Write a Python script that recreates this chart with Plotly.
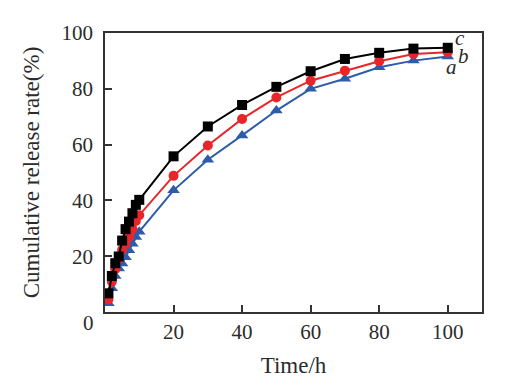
import plotly.graph_objects as go

time_h = [1, 2, 3, 4, 5, 6, 7, 8, 9, 10, 20, 30, 40, 50, 60, 70, 80, 90, 100]
series_c = [6.7, 12.9, 17.5, 19.9, 25.6, 29.7, 32.4, 35.4, 38.4, 40.2, 55.8, 66.5, 74.2, 80.7, 86.3, 90.7, 92.9, 94.4, 94.7]
series_b = [4.5, 10.9, 15.3, 18.9, 22.3, 24.5, 27.0, 29.7, 32.6, 34.7, 48.8, 59.7, 69.2, 76.9, 82.9, 86.5, 89.9, 92.5, 93.1]
series_a = [3.1, 8.5, 12.9, 15.6, 17.4, 19.6, 22.1, 24.5, 26.9, 28.8, 43.6, 54.6, 63.3, 72.2, 80.0, 83.6, 87.7, 90.1, 91.6]
x_ticks = [20, 40, 60, 80, 100]
y_ticks = [20, 40, 60, 80, 100]
labels = ["c", "b", "a"]

font_family = "Liberation Serif, Times New Roman, serif"
text_color = "#2b2b2b"

fig = go.Figure()
fig.add_trace(go.Scatter(x=time_h, y=series_a, mode="lines+markers",
                         line=dict(color="#2e5caa", width=2),
                         marker=dict(symbol="triangle-up", size=11, color="#2e5caa")))
fig.add_trace(go.Scatter(x=time_h, y=series_b, mode="lines+markers",
                         line=dict(color="#e8262a", width=2),
                         marker=dict(symbol="circle", size=10, color="#e8262a")))
fig.add_trace(go.Scatter(x=time_h, y=series_c, mode="lines+markers",
                         line=dict(color="#000000", width=2),
                         marker=dict(symbol="square", size=10, color="#000000")))

# curve labels
label_pos = [(103.6, 98.1), (104.7, 91.8), (101.2, 87.8)]
for lab, (lx, ly) in zip(labels, label_pos):
    fig.add_annotation(x=lx, y=ly, text="<i>%s</i>" % lab, showarrow=False,
                       font=dict(family=font_family, size=21, color=text_color),
                       xanchor="center", yanchor="middle")

# origin label
fig.add_annotation(x=0, y=0, xref="paper", yref="paper", text="0", showarrow=False,
                   xanchor="center", yanchor="middle", xshift=-17, yshift=-11,
                   font=dict(family=font_family, size=21, color=text_color))

# page body has an 8px default margin, so the figure is sized to fit the window
fig.update_layout(
    width=501, height=382,
    margin=dict(l=97, r=27, t=25, b=78),
    paper_bgcolor="white", plot_bgcolor="white",
    showlegend=False,
    font=dict(family=font_family, size=21, color=text_color),
    xaxis=dict(range=[0, 110], tickvals=x_ticks, ticks="inside", ticklen=7,
               tickwidth=1.5, tickcolor="#333", showline=True, linecolor="#333",
               linewidth=1.5, mirror=True, showgrid=False, zeroline=False,
               ticklabelstandoff=0,
               title=dict(text="Time/h", font=dict(size=23), standoff=14)),
    yaxis=dict(range=[0, 100], tickvals=y_ticks, ticks="inside", ticklen=7,
               tickwidth=1.5, tickcolor="#333", showline=True, linecolor="#333",
               linewidth=1.5, mirror=True, showgrid=False, zeroline=False,
               ticklabelstandoff=6,
               title=dict(text="Cumulative release rate(%)", font=dict(size=23), standoff=15)),
)

fig.write_html("out.html")
